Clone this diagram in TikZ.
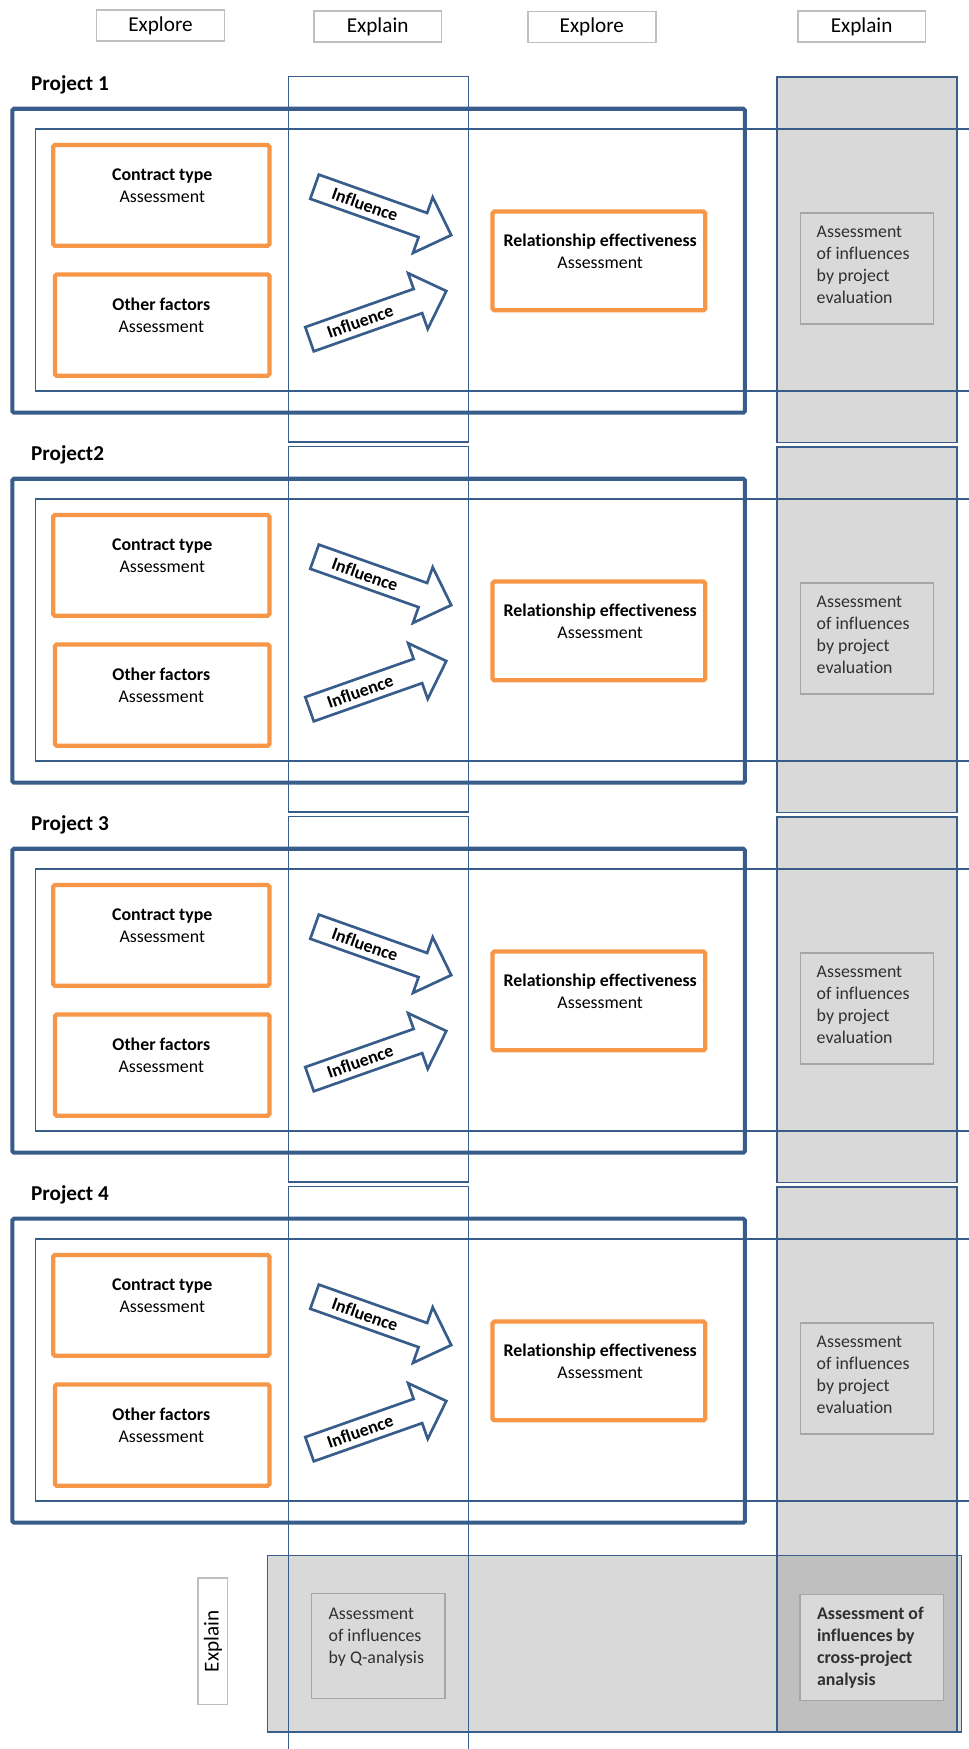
\documentclass[tikz,border=0pt]{standalone}
\usepackage{fontspec}
\setmainfont{Carlito}[Ligatures=NoCommon]
\definecolor{frameblue}{HTML}{385D8A}
\definecolor{boxorange}{HTML}{F79646}
\definecolor{panelgray}{HTML}{D9D9D9}
\definecolor{overlapgray}{HTML}{BFBFBF}
\definecolor{edgegray}{HTML}{A6A6A6}
\definecolor{labelgray}{HTML}{BFBFBF}
\definecolor{notetext}{HTML}{303030}

\begin{document}
\begin{tikzpicture}[x=1pt,y=-1pt,
  thinframe/.style={draw=frameblue, line width=1.1pt},
  projframe/.style={draw=frameblue, line width=3.6pt, rounded corners=1.5pt},
  factorbox/.style={draw=boxorange, fill=white, line width=3.8pt, rounded corners=1.5pt, inner sep=0pt},
  arrowbody/.style={draw=frameblue, fill=white, line width=2.4pt, line join=miter},
  notebox/.style={draw=edgegray, fill=panelgray, line width=1.3pt, inner sep=0pt},
  notetxt/.style={anchor=north west, inner sep=0pt, align=left, text=notetext, font=\fontsize{16}{19.8}\selectfont},
  factortxt/.style={align=center, inner sep=0pt, font=\fontsize{16}{19.5}\selectfont},
  phaselabel/.style={draw=labelgray, fill=white, line width=1.5pt, minimum width=114.5pt, minimum height=28pt, inner sep=0pt, font=\fontsize{19}{22}\selectfont},
  projtitle/.style={anchor=base west, inner sep=0pt, font=\bfseries\fontsize{19}{22}\selectfont},
  influence arrow/.pic={
    \draw[arrowbody] (0,-11.5) -- (103,-11.5) -- (103,-26.5) -- (130,0) -- (103,26.5) -- (103,11.5) -- (0,11.5) -- cycle;
    \node[transform shape, inner sep=0pt, font=\bfseries\fontsize{16}{19}\selectfont] (-txt) at (48,0) {Influence};
  }
]
\useasboundingbox (0,0) rectangle (868,1568);
\fill[white] (0,0) rectangle (868,1568);

% ---- fills of the evaluation columns and the cross-project band
\foreach \k in {0,1,2} {
  \begin{scope}[shift={(0,\k*331.7)}]
    \fill[panelgray] (696.5,69) rectangle (858,397);
  \end{scope}
}
\fill[panelgray] (240,1394.5) rectangle (862,1552.8);
\fill[panelgray] (696.5,1064.1) rectangle (858,1552.8);
\fill[overlapgray] (696.5,1394.5) rectangle (858,1552.8);

% ---- column outlines
\foreach \k in {0,1,2} {
  \begin{scope}[shift={(0,\k*331.7)}]
    \draw[thinframe] (258.5,68.3) rectangle (420.2,396.3);
    \draw[thinframe] (696.5,69) rectangle (858,397);
  \end{scope}
}
\draw[thinframe] (258.5,1572) -- (258.5,1063.4) -- (420.2,1063.4) -- (420.2,1572);
\draw[thinframe] (696.5,1064.1) rectangle (858,1552.8);
\draw[thinframe] (240,1394.5) rectangle (862,1552.8);

% ---- one block per project
\foreach \k/\ptitle in {0/Project 1,1/Project2,2/Project 3,3/Project 4} {
  \begin{scope}[shift={(0,\k*331.7)}]
    \draw[projframe] (11,97.5) rectangle (667.8,370);
    \draw[thinframe] (872,115.7) -- (32,115.7) -- (32,350.6) -- (872,350.6);
    \node[projtitle] (title\k) at (27.7,81.4) {\ptitle};

    \node[factorbox, minimum width=193.8pt, minimum height=90.3pt] (ct\k) at (144.6,175.15) {};
    \node[factortxt] (cttxt\k) at (145.5,166.7) {\textbf{Contract type}\\Assessment};

    \node[factorbox, minimum width=192.2pt, minimum height=90.9pt] (of\k) at (145.4,291.45) {};
    \node[factortxt] (oftxt\k) at (144.6,282.5) {\textbf{Other factors}\\Assessment};

    \node[factorbox, minimum width=190.6pt, minimum height=88.5pt] (re\k) at (536.9,233.95) {};
    \node[factortxt] (retxt\k) at (538.1,225.2) {\textbf{Relationship effectiveness}\\Assessment};

    \pic (up\k) [rotate=-19.5] at (282,167.4) {influence arrow};
    \pic (dn\k) [rotate=19.4] at (277.5,304.1) {influence arrow};

    \node[notebox, minimum width=119.3pt, minimum height=99.6pt] (ev\k) at (777.25,240.7) {};
    \node[notetxt] (evtxt\k) at (732,202.4) {Assessment\\of influences\\by project\\evaluation};
  \end{scope}
}

% ---- cross-project analysis notes
\node[notebox, minimum width=119.5pt, minimum height=94.2pt] (qa) at (339.25,1475.8) {};
\node[notetxt] (qatxt) at (294.4,1441.6) {Assessment\\of influences\\by Q-analysis};
\node[notebox, minimum width=128.5pt, minimum height=95pt] (cp) at (781.65,1476.9) {};
\node[notetxt, font=\bfseries\fontsize{16}{19.8}\selectfont] (cptxt) at (732.3,1440.7) {Assessment of\\influences by\\cross-project\\analysis};

% ---- phase labels
\node[phaselabel] (ph1) at (143.9,22.9) {Explore};
\node[phaselabel] (ph2) at (338.6,23.7) {Explain};
\node[phaselabel] (ph3) at (530.6,24.2) {Explore};
\node[phaselabel] (ph4) at (772.5,23.7) {Explain};
\node[phaselabel, rotate=90, minimum width=113.6pt, minimum height=26.2pt] (ph5) at (190.85,1471.35) {Explain};
\end{tikzpicture}
\end{document}
